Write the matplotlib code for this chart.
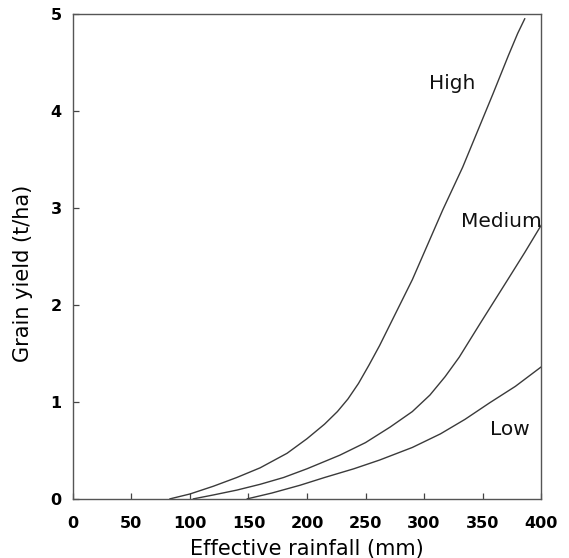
import matplotlib
matplotlib.use("Agg")
import matplotlib.pyplot as plt

plt.rcParams['font.family'] = ['DejaVu Sans']

# Grain yield response curves for three yield-potential levels
high_rain = [83, 100, 120, 140, 160, 183, 200, 215, 226, 235, 244, 253, 262, 276, 290, 303, 316, 333, 346, 359, 372, 380, 386]
high_yield = [0, 0.05, 0.13, 0.22, 0.32, 0.47, 0.62, 0.77, 0.9, 1.03, 1.19, 1.38, 1.58, 1.92, 2.26, 2.62, 2.98, 3.42, 3.8, 4.18, 4.57, 4.8, 4.95]

medium_rain = [103, 120, 140, 160, 180, 200, 228, 250, 271, 290, 305, 318, 330, 348, 360, 372, 386, 400]
medium_yield = [0, 0.04, 0.09, 0.15, 0.22, 0.31, 0.45, 0.58, 0.74, 0.9, 1.07, 1.26, 1.46, 1.81, 2.04, 2.27, 2.54, 2.82]

low_rain = [149, 170, 194, 215, 240, 262, 290, 314, 335, 356, 378, 400]
low_yield = [0, 0.06, 0.14, 0.22, 0.31, 0.4, 0.53, 0.67, 0.82, 0.99, 1.16, 1.36]

series_names = ["High", "Medium", "Low"]
x_ticks = [0, 50, 100, 150, 200, 250, 300, 350, 400]
y_ticks = [0, 1, 2, 3, 4, 5]

fig = plt.figure(figsize=(5.69, 5.58), dpi=100)
ax = fig.add_axes([0.128, 0.106, 0.823, 0.869])

line_kw = dict(color='#3a3a3a', lw=1.0)
ax.plot(high_rain, high_yield, **line_kw)
ax.plot(medium_rain, medium_yield, **line_kw)
ax.plot(low_rain, low_yield, **line_kw)

label_kw = dict(fontsize=14.5, ha='center', va='center', color='#111111')
ax.text(324, 4.28, series_names[0], **label_kw)
ax.text(366, 2.86, series_names[1], **label_kw)
ax.text(373.5, 0.71, series_names[2], **label_kw)

ax.set_xlim(0, 400)
ax.set_ylim(0, 5)
ax.set_xticks(x_ticks)
ax.set_yticks(y_ticks)
ax.tick_params(direction='in', length=4, width=0.9, color='#444444',
               labelsize=11.5)
ax.tick_params(axis='x', pad=12)
ax.tick_params(axis='y', pad=8)
for lab in ax.get_xticklabels() + ax.get_yticklabels():
    lab.set_fontweight('bold')
for sp in ax.spines.values():
    sp.set_color('#555555')
    sp.set_linewidth(1.0)

ax.set_xlabel("Effective rainfall (mm)", fontsize=15, labelpad=6)
ax.set_ylabel("Grain yield (t/ha)", fontsize=15)
ax.yaxis.set_label_coords(-0.085, 0.464)

fig.savefig("out.png", dpi=100)
